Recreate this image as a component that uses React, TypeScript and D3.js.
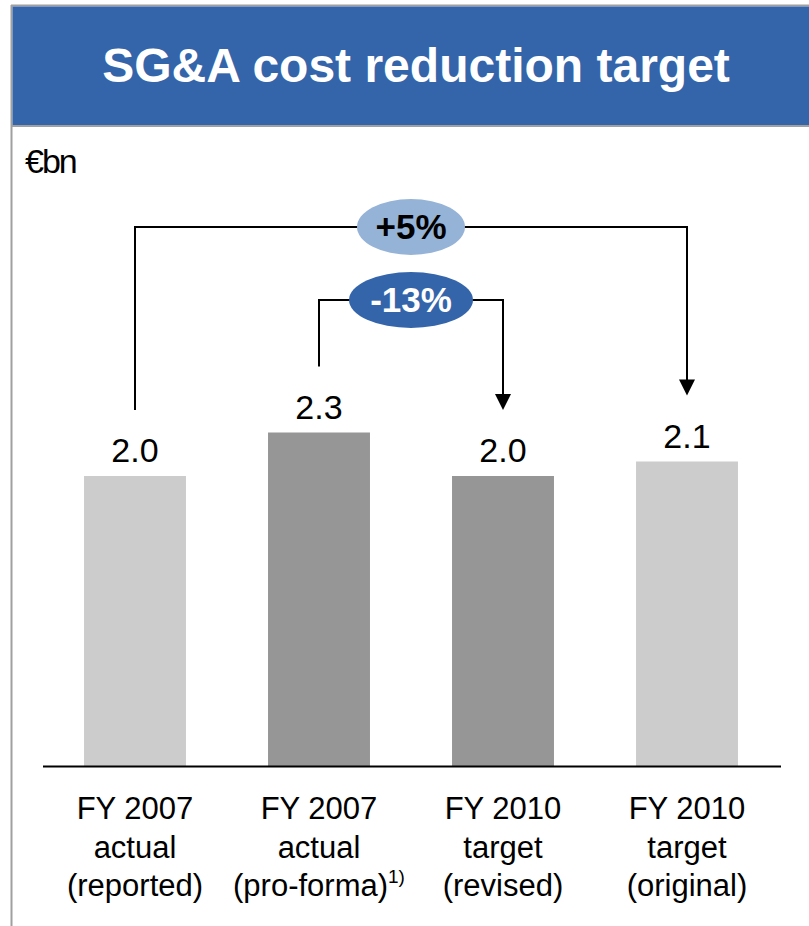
import React from "react";
import * as d3 from "d3";

const categories = ["FY 2007 actual (reported)", "FY 2007 actual (pro-forma)", "FY 2010 target (revised)", "FY 2010 target (original)"];
const labelLines = [
  ["FY 2007", "actual", "(reported)"],
  ["FY 2007", "actual", "(pro-forma)"],
  ["FY 2010", "target", "(revised)"],
  ["FY 2010", "target", "(original)"],
];
const values = [2.0, 2.3, 2.0, 2.1];
const valueLabels = ["2.0", "2.3", "2.0", "2.1"];
const barColors = ["#cccccc", "#969696", "#969696", "#cccccc"];
const brackets = [
  { from: 0, to: 3, label: "+5%", level: 227, fill: "#95b3d7", text: "#000000", rx: 54 },
  { from: 1, to: 2, label: "-13%", level: 300, fill: "#3465aa", text: "#ffffff", rx: 62 },
];

const W = 809;
const H = 926;
const baseY = 766;

export default function App() {
  const x = d3.scaleBand<string>().domain(categories).range([43, 779]).paddingInner(0.446).paddingOuter(0.223);
  const y = d3.scaleLinear().domain([0, 2]).range([baseY, 476]);
  const cx = (i: number) => (x(categories[i]) as number) + x.bandwidth() / 2;
  const font = "'Liberation Sans', Arial, sans-serif";

  return (
    <svg width={W} height={H} style={{ position: "absolute", left: 0, top: 0, background: "#fff" }} fontFamily={font}>
      <rect x={0} y={0} width={W} height={H} fill="#ffffff" />
      {/* frame */}
      <line x1={11.5} y1={5} x2={11.5} y2={H} stroke="#a0a0a0" strokeWidth={2} />
      <line x1={11} y1={5.5} x2={W} y2={5.5} stroke="#a0a0a0" strokeWidth={2} />
      <rect x={12.5} y={6.5} width={W - 12.5} height={119} fill="#3465aa" />
      <line x1={12} y1={126} x2={W} y2={126} stroke="#a0a0a0" strokeWidth={2} />
      <text x={416} y={82} textAnchor="middle" fill="#ffffff" fontWeight="bold" fontSize={48}>
        SG&amp;A cost reduction target
      </text>
      <text x={25} y={173} fontSize={34} fill="#000" letterSpacing={-2}>
        €bn
      </text>

      {/* bars */}
      {values.map((v, i) => (
        <rect key={i} x={x(categories[i])} y={y(v)} width={x.bandwidth()} height={baseY - y(v)} fill={barColors[i]} />
      ))}
      {values.map((v, i) => (
        <text key={"v" + i} x={cx(i)} y={y(v) - 14} textAnchor="middle" fontSize={34} fill="#000">
          {valueLabels[i]}
        </text>
      ))}
      <line x1={43} x2={781} y1={baseY + 0.5} y2={baseY + 0.5} stroke="#000" strokeWidth={2} />

      {/* brackets */}
      {brackets.map((b, k) => {
        const x1 = cx(b.from);
        const x2 = cx(b.to);
        const y1 = y(values[b.from]) - 66;
        const tip = y(values[b.to]) - 66;
        const mid = (x1 + x2) / 2;
        return (
          <g key={"b" + k}>
            <path d={`M${x1},${y1}V${b.level}H${x2}V${tip - 15}`} fill="none" stroke="#000" strokeWidth={2} />
            <path d={`M${x2 - 8},${tip - 16}L${x2 + 8},${tip - 16}L${x2},${tip}Z`} fill="#000" />
            <ellipse cx={mid} cy={b.level} rx={b.rx} ry={28} fill={b.fill} />
            <text x={mid} y={b.level + 12} textAnchor="middle" fontSize={35} fontWeight="bold" fill={b.text}>
              {b.label}
            </text>
          </g>
        );
      })}

      {/* category labels */}
      {labelLines.map((lines, i) => (
        <text key={"c" + i} x={cx(i)} textAnchor="middle" fontSize={31} fill="#000">
          {lines.map((l, j) => (
            <tspan key={j} x={cx(i)} y={819 + j * 38.5}>
              {l}
              {i === 1 && j === 2 ? (
                <tspan fontSize={19} dy={-13}>1)</tspan>
              ) : null}
            </tspan>
          ))}
        </text>
      ))}
    </svg>
  );
}
